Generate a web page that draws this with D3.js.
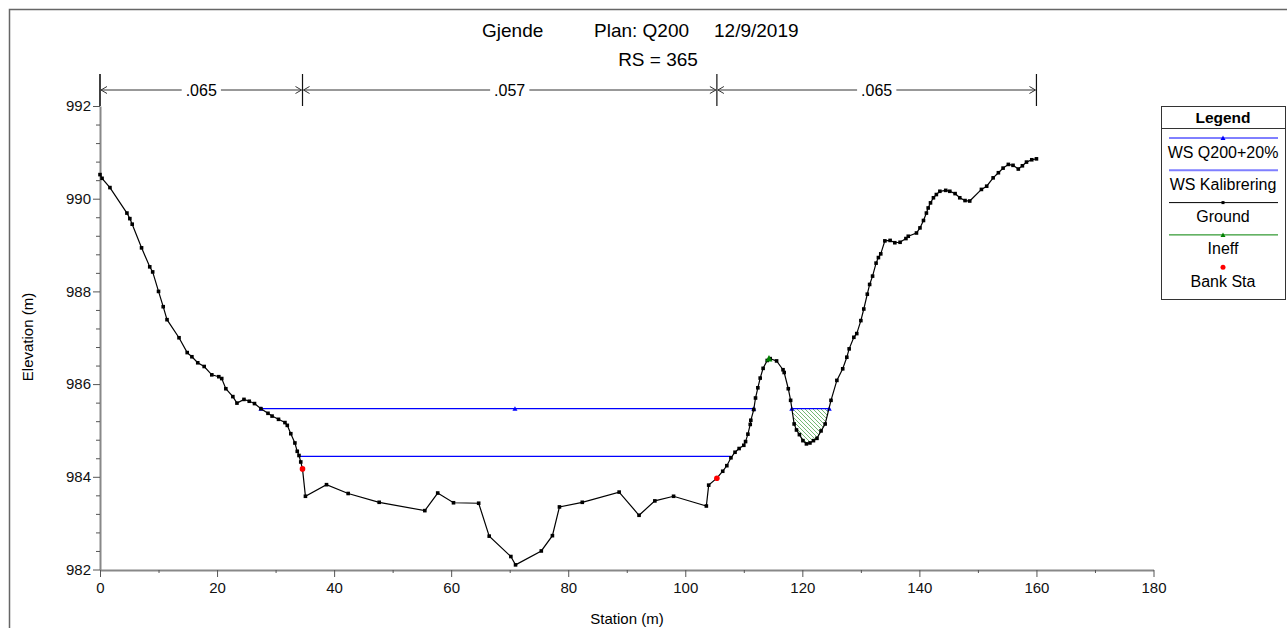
<!DOCTYPE html>
<html>
<head>
<meta charset="utf-8">
<script src="https://cdn.jsdelivr.net/npm/d3@7"></script>
<style>
  body { margin: 0; background: #fff; }
  svg { display: block; font-family: "Liberation Sans", Arial, sans-serif; }
</style>
</head>
<body>
<div id="root"></div>
<script>
// ground profile: [station (m), elevation (m)]
var ground = [
  [0, 990.52], [0.35, 990.44], [1.7, 990.24], [4.6, 989.69], [5.1, 989.57], [5.5, 989.45],
  [7.1, 988.94], [8.5, 988.53], [9.0, 988.42], [10.0, 988.0], [10.8, 987.67], [11.45, 987.39],
  [13.5, 987.0], [14.9, 986.68], [15.7, 986.59], [16.7, 986.46], [17.8, 986.38], [19.1, 986.2],
  [20.3, 986.16], [20.8, 986.12], [21.5, 985.9], [22.7, 985.73], [23.4, 985.59], [24.6, 985.67],
  [25.5, 985.63], [26.4, 985.58], [27.5, 985.47], [28.7, 985.37], [29.4, 985.31], [30.5, 985.24],
  [31.6, 985.17], [32.0, 985.11], [32.6, 984.93], [33.3, 984.73], [33.7, 984.55], [34.0, 984.46],
  [34.3, 984.32], [34.6, 984.17], [35.1, 983.58], [38.7, 983.83], [42.4, 983.64], [47.7, 983.45],
  [55.5, 983.27], [57.7, 983.65], [60.4, 983.44], [64.7, 983.43], [66.5, 982.72], [70.2, 982.28],
  [71.0, 982.1], [75.4, 982.4], [77.3, 982.73], [78.5, 983.35], [82.4, 983.45], [88.7, 983.67],
  [92.1, 983.17], [94.8, 983.48], [98.0, 983.58], [103.6, 983.37], [104.0, 983.82], [105.4, 983.97],
  [106.4, 984.12], [107.1, 984.24], [107.8, 984.41], [108.5, 984.53], [109.2, 984.61], [110.0, 984.68],
  [110.3, 984.76], [110.7, 984.92], [111.1, 985.13], [111.2, 985.22], [111.7, 985.45], [112.0, 985.7],
  [112.4, 985.92], [112.8, 986.13], [113.3, 986.34], [114.0, 986.51], [114.5, 986.55], [115.6, 986.5],
  [116.7, 986.31], [116.9, 986.25], [117.6, 985.9], [118.0, 985.65], [118.6, 985.14], [119.0, 985.01],
  [119.5, 984.91], [120.1, 984.78], [120.7, 984.71], [121.3, 984.73], [121.9, 984.78], [122.5, 984.83],
  [123.2, 984.99], [123.9, 985.14], [124.9, 985.65], [125.9, 986.08], [126.9, 986.33], [127.6, 986.58],
  [128.0, 986.76], [128.8, 987.01], [129.3, 987.09], [130.0, 987.37], [130.5, 987.62], [131.1, 987.94],
  [131.5, 988.15], [132.0, 988.33], [132.6, 988.61], [133.0, 988.73], [133.4, 988.81], [134.1, 989.09],
  [135.0, 989.1], [135.8, 989.05], [136.7, 989.06], [137.7, 989.14], [138.1, 989.19], [139.5, 989.26],
  [140.1, 989.37], [140.7, 989.53], [141.2, 989.69], [141.5, 989.8], [141.9, 989.91], [142.4, 990.02],
  [142.9, 990.09], [143.5, 990.16], [144.5, 990.18], [145.2, 990.16], [146.1, 990.11], [146.9, 990.02],
  [147.8, 989.96], [148.6, 989.95], [150.6, 990.2], [151.5, 990.27], [152.6, 990.45], [153.5, 990.56],
  [154.3, 990.66], [155.2, 990.74], [156.0, 990.72], [156.9, 990.64], [157.6, 990.71], [158.3, 990.79],
  [159.2, 990.84], [160.0, 990.86]
];

// water surfaces
var wsQ200Elev = 985.47;
var wsQ200Segs = [[27.5, 111.7], [118.2, 124.6]];
var wsQ200Marks = [27.5, 70.9, 111.7, 118.2, 124.6];
var wsKalElev = 984.44;
var wsKalSegs = [[34.0, 107.8]];

// ineffective flow area
var ineffMark = [114.3, 986.55];
var ineffRange = [118.2, 124.6];

// bank stations
var bankSta = [[34.6, 984.17], [105.4, 983.97]];

// manning's n
var nSta = [0, 34.6, 105.4, 160];
var nVal = [".065", ".057", ".065"];

var xTicks = [0, 20, 40, 60, 80, 100, 120, 140, 160, 180];
var yTicks = [982, 984, 986, 988, 990, 992];

var titleParts = [["Gjende", 482], ["Plan: Q200", 594], ["12/9/2019", 714]];
var subTitle = "RS = 365";

var legendItems = [
  {label: "WS Q200+20%", color: "#0000ff", mark: "tri", line: true},
  {label: "WS Kalibrering", color: "#7f7fff", mark: null, line: true},
  {label: "Ground", color: "#000", mark: "sq", line: true},
  {label: "Ineff", color: "#008000", mark: "tri", line: true},
  {label: "Bank Sta", color: "#ff0000", mark: "dot", line: false}
];

var width = 1287, height = 628;

var svg = d3.select("#root").append("svg")
  .attr("width", width)
  .attr("height", height);

// outer frame
svg.append("rect")
  .attr("x", 9.5).attr("y", 9.5)
  .attr("width", 1400).attr("height", 800)
  .attr("fill", "none").attr("stroke", "#666").attr("stroke-width", 1.5);

var x = d3.scaleLinear().domain([0, 180]).range([100, 1153.5]);
var y = d3.scaleLinear().domain([982, 992]).range([569.5, 106]);

// hatch pattern
var defs = svg.append("defs");
defs.append("pattern")
  .attr("id", "hatch")
  .attr("patternUnits", "userSpaceOnUse")
  .attr("width", 4).attr("height", 4)
  .append("path")
  .attr("d", "M-1,-1 L5,5 M-1,3 L1,5 M3,-1 L5,1")
  .attr("stroke", "#3a9a3a").attr("stroke-width", 0.7);

// title
titleParts.forEach(function(p){
  svg.append("text")
    .attr("x", p[1]).attr("y", 37)
    .attr("font-size", 19)
    .text(p[0]);
});
svg.append("text")
  .attr("x", 658).attr("y", 66)
  .attr("text-anchor", "middle")
  .attr("font-size", 19)
  .text(subTitle);

// axes
svg.append("g")
  .attr("transform", "translate(0,570)")
  .call(d3.axisBottom(x).tickValues(xTicks).tickSize(7).tickSizeOuter(0).tickPadding(5).tickFormat(d3.format("d")));
svg.append("g")
  .attr("transform", "translate(0,570)")
  .call(d3.axisBottom(x).tickValues(d3.range(10, 180, 20)).tickSize(3).tickFormat(""))
  .select(".domain").remove();

svg.append("g")
  .attr("transform", "translate(100,0)")
  .call(d3.axisLeft(y).tickValues(yTicks).tickSize(7).tickSizeOuter(0).tickPadding(2).tickFormat(d3.format("d")));
var yMinor = d3.range(0, 26).map(function(i){ return 982 + i * 0.4; })
  .filter(function(v){ return Math.abs(Math.round(v / 2) * 2 - v) > 0.01; });
svg.append("g")
  .attr("transform", "translate(100,0)")
  .call(d3.axisLeft(y).tickValues(yMinor).tickSize(4).tickFormat(""))
  .select(".domain").remove();

svg.selectAll(".domain").attr("stroke", "#888").attr("stroke-width", 2);
svg.selectAll(".tick line").attr("stroke", "#555");
svg.selectAll(".tick text").attr("font-size", 15).attr("fill", "#111")
  .attr("font-family", "Liberation Sans, Arial, sans-serif");

// y axis continues up to the n-value bar
svg.append("line")
  .attr("x1", 100).attr("x2", 100)
  .attr("y1", y(992)).attr("y2", 74)
  .attr("stroke", "#888").attr("stroke-width", 2);

svg.append("text")
  .attr("x", 627).attr("y", 624)
  .attr("text-anchor", "middle").attr("font-size", 15)
  .text("Station (m)");
svg.append("text")
  .attr("transform", "translate(33,337) rotate(-90)")
  .attr("text-anchor", "middle").attr("font-size", 15)
  .text("Elevation (m)");

// manning's n bar
var nBar = svg.append("g");
var barY = 90;
nSta.forEach(function(s){
  nBar.append("line")
    .attr("x1", x(s)).attr("x2", x(s))
    .attr("y1", 74).attr("y2", 106)
    .attr("stroke", "#111").attr("stroke-width", 1.2);
});
nVal.forEach(function(v, i){
  var a = x(nSta[i]), b = x(nSta[i + 1]);
  nBar.append("line")
    .attr("x1", a + 1).attr("x2", b - 1)
    .attr("y1", barY).attr("y2", barY)
    .attr("stroke", "#333");
  nBar.append("path")
    .attr("d", "M" + (a + 7) + "," + (barY - 3.5) + " L" + (a + 1) + "," + barY + " L" + (a + 7) + "," + (barY + 3.5)
      + " M" + (b - 7) + "," + (barY - 3.5) + " L" + (b - 1) + "," + barY + " L" + (b - 7) + "," + (barY + 3.5))
    .attr("fill", "none").attr("stroke", "#333");
  var t = nBar.append("text")
    .attr("x", (a + b) / 2).attr("y", barY + 5.5)
    .attr("text-anchor", "middle").attr("font-size", 16)
    .text(v);
  var bb = t.node().getBBox();
  nBar.insert("rect", "text:last-of-type")
    .attr("x", bb.x - 4).attr("y", bb.y).attr("width", bb.width + 8).attr("height", bb.height)
    .attr("fill", "#fff");
});

// ineffective area hatch
function groundAt(s){
  for (var i = 0; i < ground.length - 1; i++) {
    var p = ground[i], q = ground[i + 1];
    if (s >= p[0] && s <= q[0]) {
      return p[1] + (q[1] - p[1]) * (s - p[0]) / (q[0] - p[0]);
    }
  }
  return null;
}
var ineffPts = [[ineffRange[0], groundAt(ineffRange[0])]]
  .concat(ground.filter(function(d){ return d[0] > ineffRange[0] && d[0] < ineffRange[1]; }))
  .concat([[ineffRange[1], groundAt(ineffRange[1])]]);
svg.append("path")
  .datum(ineffPts)
  .attr("d", d3.area()
    .x(function(d){ return x(d[0]); })
    .y0(y(wsQ200Elev))
    .y1(function(d){ return y(d[1]); }))
  .attr("fill", "url(#hatch)");

// water surface lines
function wsLines(segs, elev, color){
  svg.selectAll(null)
    .data(segs)
    .enter().append("line")
    .attr("x1", function(d){ return x(d[0]); })
    .attr("x2", function(d){ return x(d[1]); })
    .attr("y1", y(elev)).attr("y2", y(elev))
    .attr("stroke", color).attr("stroke-width", 1.2);
}
wsLines(wsQ200Segs, wsQ200Elev, "#0000ff");
wsLines(wsKalSegs, wsKalElev, "#0000ff");

function tri(cx, cy, r){
  return "M" + cx + "," + (cy - r) + " L" + (cx + r) + "," + (cy + r * 0.8) + " L" + (cx - r) + "," + (cy + r * 0.8) + "Z";
}
svg.selectAll(null)
  .data(wsQ200Marks)
  .enter().append("path")
  .attr("d", function(d){ return tri(x(d), y(wsQ200Elev), 2.5); })
  .attr("fill", "#0000ff");

// ground
svg.append("path")
  .datum(ground)
  .attr("d", d3.line().x(function(d){ return x(d[0]); }).y(function(d){ return y(d[1]); }))
  .attr("fill", "none").attr("stroke", "#000").attr("stroke-width", 1.2);
svg.selectAll(".gpt")
  .data(ground)
  .enter().append("rect")
  .attr("class", "gpt")
  .attr("x", function(d){ return x(d[0]) - 1.8; })
  .attr("y", function(d){ return y(d[1]) - 1.8; })
  .attr("width", 3.6).attr("height", 3.6)
  .attr("fill", "#000");

// ineff marker
svg.append("path")
  .attr("d", tri(x(ineffMark[0]), y(ineffMark[1]), 3.5))
  .attr("fill", "#008000");

// bank stations
svg.selectAll(".bank")
  .data(bankSta)
  .enter().append("circle")
  .attr("class", "bank")
  .attr("cx", function(d){ return x(d[0]); })
  .attr("cy", function(d){ return y(d[1]); })
  .attr("r", 2.8)
  .attr("fill", "#ff0000");

// legend
var lg = svg.append("g");
lg.append("rect")
  .attr("x", 1161.5).attr("y", 106.5).attr("width", 124).attr("height", 193)
  .attr("fill", "#fff").attr("stroke", "#333");
lg.append("text")
  .attr("x", 1223).attr("y", 122.5).attr("text-anchor", "middle")
  .attr("font-size", 15.5).attr("font-weight", "bold").text("Legend");
lg.append("line")
  .attr("x1", 1161.5).attr("x2", 1285.5).attr("y1", 128.5).attr("y2", 128.5)
  .attr("stroke", "#333");
legendItems.forEach(function(d, i){
  var ly = 138 + i * 32.3;
  if (d.line) {
    lg.append("line")
      .attr("x1", 1169).attr("x2", 1278).attr("y1", ly).attr("y2", ly)
      .attr("stroke", d.color).attr("stroke-width", d.mark ? 1 : 2);
  }
  if (d.mark === "tri") lg.append("path").attr("d", tri(1223, ly, 2.5)).attr("fill", d.color);
  if (d.mark === "sq") lg.append("rect").attr("x", 1221.5).attr("y", ly - 1.5).attr("width", 3).attr("height", 3).attr("fill", d.color);
  if (d.mark === "dot") lg.append("circle").attr("cx", 1223).attr("cy", ly).attr("r", 2.5).attr("fill", d.color);
  lg.append("text")
    .attr("x", 1223).attr("y", ly + 19.5).attr("text-anchor", "middle")
    .attr("font-size", 16).text(d.label);
});
</script>
</body>
</html>
